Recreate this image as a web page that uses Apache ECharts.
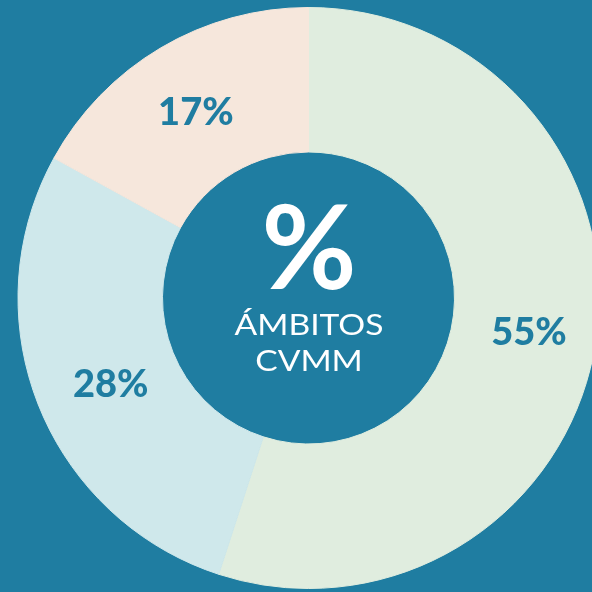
<!DOCTYPE html>
<html><head><meta charset="utf-8">
<script src="https://cdn.jsdelivr.net/npm/echarts@6/dist/echarts.min.js"></script>
<style>html,body{margin:0;padding:0;background:#1f7da1;}#c{width:592px;height:592px;}</style>
</head><body><div id="c"></div>
<script>
const categories = ['A', 'B', 'C'];
const values = [55, 28, 17];
const labels = ['55%', '28%', '17%'];
const colors = ['#e0eddf', '#cfe8eb', '#f6e7dc'];
const centerLines = ['%', 'ÁMBITOS', 'CVMM'];
const labelOffsets = [[2, 0], [8, 5], [0, 5]];

const chart = echarts.init(document.getElementById('c'));
chart.setOption({
  backgroundColor: '#1f7da1',
  animation: false,
  series: [{
    type: 'pie',
    center: [308.5, 298],
    radius: [146, 290.5],
    startAngle: 90,
    clockwise: true,
    silent: true,
    data: categories.map((c, i) => ({ name: c, value: values[i],
      itemStyle: { color: colors[i], borderWidth: 1, borderColor: colors[i] },
      label: { formatter: labels[i], offset: labelOffsets[i] } })),
    label: {
      show: true, position: 'inside', color: '#1f7da1',
      fontFamily: 'Lato', fontWeight: 900, fontSize: 38
    },
    labelLine: { show: false }
  }],
  graphic: [
    { type: 'text', x: 309, y: 252, style: { text: centerLines[0], fill: '#ffffff', font: '700 116px Lato', align: 'center', verticalAlign: 'middle' } },
    { type: 'text', x: 309, y: 326, scaleX: 1.2, style: { text: centerLines[1], fill: '#ffffff', font: '400 28px Lato', align: 'center', verticalAlign: 'middle' } },
    { type: 'text', x: 309, y: 362, scaleX: 1.2, style: { text: centerLines[2], fill: '#ffffff', font: '400 28px Lato', align: 'center', verticalAlign: 'middle' } }
  ]
});
</script></body></html>
